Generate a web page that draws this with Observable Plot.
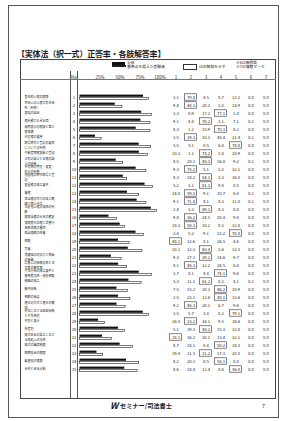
<!DOCTYPE html>
<html><head><meta charset="utf-8">
<script src="https://cdn.jsdelivr.net/npm/d3@7"></script>
<script src="https://cdn.jsdelivr.net/npm/@observablehq/plot@0.6"></script>
<style>
body{margin:0;background:#fff;}
#page{position:relative;width:283px;height:421px;overflow:hidden;font-family:'Noto Sans CJK JP',sans-serif;color:#1a1a1a;background:#fff;}
.abs{position:absolute;box-sizing:border-box;white-space:nowrap;}
</style></head><body>
<div id="page">
  <div class="abs" style="left:8px;top:5px;width:271px;height:413px;border:1.6px solid #555;"></div>
  <div class="abs" style="left:20px;top:59px;width:256px;height:340px;border:0.8px solid #444;"></div>
  <div class="abs" style="left:70px;top:71px;width:0;height:328px;border-left:0.7px solid #555;"></div>
  <div class="abs" style="left:77px;top:71px;width:0;height:328px;border-left:0.7px solid #555;"></div>
  <div class="abs" style="left:20px;top:78.5px;width:256px;height:0;border-top:0.6px solid #777;"></div>
  <div class="abs" style="left:17px;top:49.5px;font-size:8px;line-height:8px;font-weight:bold;letter-spacing:-0.2px;">【実体法（択一式）正答率・各肢解答率】</div>
  <div class="abs" style="left:112px;top:62px;width:13px;height:2.6px;background:#111;"></div>
  <div class="abs" style="left:112px;top:64.8px;width:14px;height:2.6px;border:0.6px solid #222;background:#fff;"></div>
  <div class="abs" style="left:127px;top:60.5px;font-size:3.8px;line-height:4px;">全体<br>基準点を超えた受験者</div>
  <div class="abs" style="left:183px;top:64px;width:14px;height:6px;border:0.7px solid #333;"></div>
  <div class="abs" style="left:199px;top:65px;font-size:3.8px;line-height:4px;">は正解肢を示す</div>
  <div class="abs" style="left:236px;top:61px;font-size:3.8px;line-height:4px;">※6は無回答<br>※7は複数マーク</div>
  <div class="abs" style="left:110px;top:401px;font-size:9px;line-height:9px;font-weight:bold;font-style:italic;">W</div>
  <div class="abs" style="left:120px;top:403px;font-size:6.2px;line-height:6.2px;font-weight:bold;">セミナー/司法書士</div>
  <div class="abs" style="left:262px;top:404px;font-size:5.5px;line-height:5.5px;">7</div>
  <div id="bars" class="abs" style="left:0;top:0;"></div>
  <div id="nums" class="abs" style="left:166px;top:0;"></div>
</div>
<script>
const nos = [1,2,3,4,5,6,7,8,9,10,11,12,13,14,15,16,17,18,19,20,21,22,23,24,25,26,27,28,29,30,31,32,33,34,35];
const labels = [
  "基本的人権の限界",
  "外国人の人権享有主体\n性（判例）",
  "表現の自由",
  "権利能力なき社団",
  "意思表示の瑕疵と第三\n者保護",
  "代理権の濫用",
  "取得時効と登記の要否\nについての判例",
  "不動産物権変動と登記",
  "占有の訴えと本権の訴\nえの関係",
  "共有物の管理・変更・\n処分の判例",
  "地役権の時効取得と登\n記",
  "留置権の成立要件",
  "質権",
  "抵当権の効力の及ぶ範\n囲と物上代位",
  "法定地上権の成否の判\n断",
  "根抵当権の元本の確定",
  "債権者代位権と詐害行\n為取消権の異同",
  "保証債務の性質",
  "相殺",
  "売買",
  "賃貸借の対抗力と敷金\nの承継",
  "請負人の担保責任と注\n文者の解除権",
  "不法行為の成立要件と\n使用者責任・過失相殺",
  "婚姻の成立",
  "親子関係",
  "相続の承認",
  "遺言の方式と遺言の撤\n回",
  "刑法における因果関係\nと不作為犯",
  "共犯と身分",
  "財産犯",
  "株式会社の設立におけ\nる発起人の責任",
  "株式の譲渡制限",
  "取締役会の権限",
  "監査役の権限",
  "合併と会社分割"
];
const correctChoice = [2,2,4,3,4,2,5,3,3,2,3,3,2,2,3,2,2,5,1,3,3,2,4,3,4,4,2,5,2,3,1,4,3,4,5];
const choiceRates = [
  [3.1,79.4,4.5,0.7,12.2],
  [9.4,44.1,28.3,3.2,14.9],
  [3.3,0.9,17.2,77.1,1.4],
  [9.1,4.4,76.2,3.1,7.1],
  [4.3,1.2,15.9,70.3,8.2],
  [3.5,19.3,10.3,45.4,21.4],
  [5.5,5.1,8.5,6.8,74.0],
  [10.3,1.1,74.2,3.4,10.9],
  [8.5,20.1,45.3,16.8,9.2],
  [9.3,70.2,5.1,3.2,12.1],
  [8.3,18.2,54.1,3.3,16.0],
  [5.2,3.1,81.3,9.8,0.5],
  [14.8,59.3,9.1,10.7,6.0],
  [9.1,71.4,4.1,4.3,11.0],
  [2.4,3.3,89.1,4.3,0.8],
  [9.8,36.2,24.5,20.4,9.0],
  [18.3,50.3,10.2,8.3,12.8],
  [3.4,5.2,9.1,12.2,70.0],
  [48.1,12.6,8.1,26.5,4.6],
  [10.1,12.3,60.4,3.6,13.5],
  [9.3,27.1,39.2,14.6,9.7],
  [8.1,48.3,12.2,24.5,6.8],
  [3.7,8.1,4.4,74.1,9.6],
  [5.3,21.1,61.2,8.2,4.1],
  [7.5,15.2,20.1,46.2,10.9],
  [2.5,23.1,12.6,48.1,13.6],
  [9.2,46.3,28.1,6.7,9.6],
  [3.5,5.7,3.4,8.2,79.1],
  [16.5,23.2,34.1,9.5,16.6],
  [5.1,19.3,48.2,15.3,12.0],
  [28.1,16.2,30.1,13.4,12.1],
  [4.7,18.1,8.4,50.2,18.5],
  [19.4,21.5,21.2,17.3,20.5],
  [4.2,20.3,8.5,58.1,8.8],
  [4.6,18.4,12.4,8.6,56.0]
];
const noAnswer = [0.0,0.0,0.0,0.1,0.0,0.1,0.0,0.0,0.1,0.0,0.0,0.0,0.1,0.1,0.0,0.0,0.0,0.0,0.0,0.0,0.0,0.0,0.0,0.1,0.0,0.0,0.0,0.0,0.0,0.0,0.0,0.0,0.0,0.0,0.0];
const multiMark = [0.0,0.0,0.0,0.0,0.0,0.0,0.0,0.0,0.0,0.0,0.0,0.0,0.0,0.0,0.0,0.0,0.0,0.0,0.0,0.0,0.0,0.0,0.0,0.0,0.0,0.0,0.0,0.0,0.0,0.0,0.0,0.0,0.0,0.0,0.0];
const upperRate = [86,53,90,88,88,27,89,85,54,83,59,91,74,83,96,46,56,80,62,78,52,59,90,77,60,63,57,86,31,56,40,66,29,74,72];
const pctTicks = [25,50,75,100];
const columns = ["1","2","3","4","5","6","7"];

const rows = nos.map((n,i)=>{
  const parts = labels[i].split("\n");
  return {no:String(n), l1:parts[0], l2:parts[1] || null, two:parts.length>1,
    correct:choiceRates[i][correctChoice[i]-1], upper:upperRate[i], cc:String(correctChoice[i])};
});
const singleRows = rows.filter(r=>!r.two);
const doubleRows = rows.filter(r=>r.two);
const cells = [];
nos.forEach((n,i)=>{
  const vals = [...choiceRates[i], noAnswer[i], multiMark[i]];
  vals.forEach((v,j)=>cells.push({no:String(n), col:columns[j], v}));
});
const yDomain = nos.map(String);
const yScale = {type:"band", domain:yDomain, range:[78.6,387.4], padding:0, axis:null};
const font = "'Noto Sans CJK JP', sans-serif";
const lab = {frameAnchor:"left", dx:24, textAnchor:"start", fontSize:3.0, fill:"#222"};

const bars = Plot.plot({
  width:283, height:421, margin:0,
  style:{background:"transparent", fontFamily:font, color:"#1a1a1a", overflow:"visible"},
  x:{type:"linear", domain:[0,100], range:[79.5,159.5], axis:null},
  y:yScale,
  marks:[
    Plot.barX(rows,{x:"upper", y:"no", fill:"white", stroke:"#222", strokeWidth:0.6, insetTop:4.5, insetBottom:1.5}),
    Plot.barX(rows,{x:"correct", y:"no", fill:"#111", insetTop:1.6, insetBottom:4.2}),
    Plot.text(singleRows,{y:"no", text:"l1", ...lab}),
    Plot.text(doubleRows,{y:"no", text:"l1", dy:-2.2, ...lab}),
    Plot.text(doubleRows,{y:"no", text:"l2", dy:2.2, ...lab}),
    Plot.text(rows,{y:"no", text:"no", frameAnchor:"left", dx:73.5, textAnchor:"middle", fontSize:4.2, fill:"#222"}),
    Plot.text(pctTicks,{x:d=>d, frameAnchor:"top", dy:75, text:d=>d+"%", fontSize:4.4, fill:"#222"}),
    Plot.text(["No"],{frameAnchor:"top-left", dx:73.5, dy:75, text:d=>d, textAnchor:"middle", fontSize:4.4, fill:"#222"})
  ]
});
document.getElementById("bars").appendChild(bars);

const nums = Plot.plot({
  width:110, height:421, margin:0,
  style:{background:"transparent", fontFamily:font, color:"#1a1a1a", overflow:"visible"},
  x:{type:"band", domain:columns, range:[0,109], padding:0, axis:null},
  y:yScale,
  marks:[
    Plot.cell(rows,{x:"cc", y:"no", fill:"none", stroke:"#333", strokeWidth:0.6, insetLeft:1.5, insetRight:1.5, insetTop:0.8, insetBottom:0.8}),
    Plot.text(cells,{x:"col", y:"no", text:d=>d.v.toFixed(1), fontSize:4.2, fill:"#222"}),
    Plot.text(columns,{x:d=>d, frameAnchor:"top", dy:75, text:d=>d, fontSize:4.4, fill:"#222"})
  ]
});
document.getElementById("nums").appendChild(nums);
</script>
</body></html>
